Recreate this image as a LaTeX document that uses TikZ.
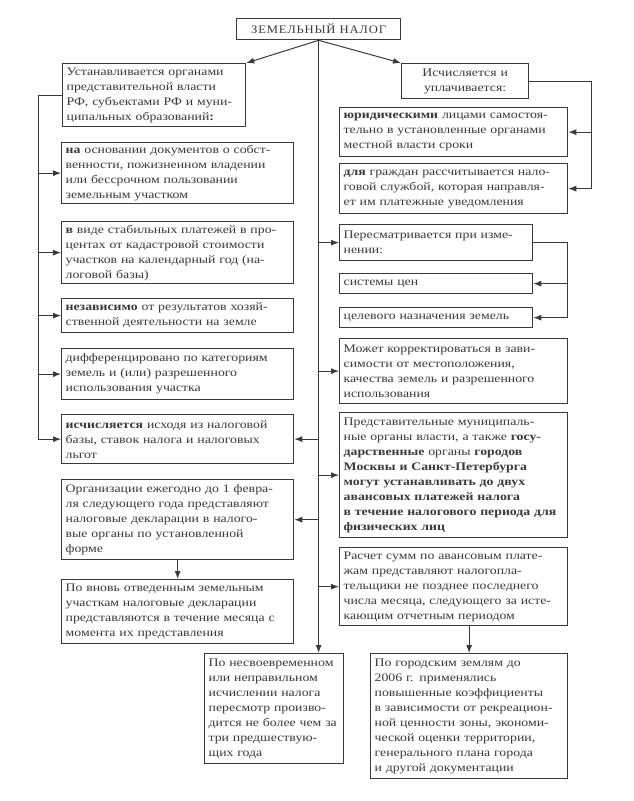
\documentclass[tikz,border=0pt]{standalone}
\usepackage{fontspec}
\setmainfont[FakeStretch=1.2]{Liberation Serif}
\newfontfamily\titlefont[LetterSpace=7,FakeStretch=1.1]{Liberation Serif}
\usetikzlibrary{arrows.meta}
\definecolor{ink}{HTML}{3A3A3A}
\tikzset{
 box/.style={draw=ink, line width=1.3pt, anchor=north west, align=left, inner xsep=4pt, inner ysep=2pt, font=\fontsize{11.5}{15}\selectfont, text=ink},
 arr/.style={draw=ink, line width=1pt, -{Latex[length=8pt,width=6pt]}},
 ln/.style={draw=ink, line width=1pt}
}
\begin{document}
\begin{tikzpicture}[x=1pt,y=-1pt]
\useasboundingbox[fill=white] (0,0) rectangle (634,801);
% title
\node[box, align=center, minimum width=164pt, minimum height=21pt, font=\titlefont\fontsize{11.5}{13}\selectfont] (T) at (236,18) {ЗЕМЕЛЬНЫЙ НАЛОГ};
% left column
\node[box, minimum width=183pt, minimum height=63pt, text width=175pt] (L0) at (62,63) {Устанавливается органами\\ представительной власти\\ РФ, субъектами РФ и муни-\\ ципальных образований\textbf{:}};
\node[box, minimum width=232pt, minimum height=61pt, text width=224pt] (L1) at (61,142) {\textbf{на} основании документов о собст-\\ венности, пожизненном владении\\ или бессрочном пользовании\\ земельным участком};
\node[box, minimum width=232pt, minimum height=62pt, text width=224pt] (L2) at (61,221) {\textbf{в} виде стабильных платежей в про-\\ центах от кадастровой стоимости\\ участков на календарный год (на-\\ логовой базы)};
\node[box, minimum width=232pt, minimum height=34pt, text width=224pt] (L3) at (61,298) {\textbf{независимо} от результатов хозяй-\\ ственной деятельности на земле};
\node[box, minimum width=232pt, minimum height=51pt, text width=224pt] (L4) at (61,348) {дифференцировано по категориям\\ земель и (или) разрешенного\\ использования участка};
\node[box, minimum width=232pt, minimum height=49pt, text width=224pt] (L5) at (61,414) {\textbf{исчисляется} исходя из налоговой\\ базы, ставок налога и налоговых\\ льгот};
\node[box, minimum width=232pt, minimum height=80pt, text width=224pt] (L6) at (61,479) {Организации ежегодно до 1 февра-\\ ля следующего года представляют\\ налоговые декларации в налого-\\ вые органы по установленной\\ форме};
\node[box, minimum width=232pt, minimum height=64pt, text width=224pt] (L7) at (61,579) {По вновь отведенным земельным\\ участкам налоговые декларации\\ представляются в течение месяца с\\ момента их представления};
% bottom centre
\node[box, minimum width=139pt, minimum height=110pt, text width=131pt] (C) at (204,653) {По несвоевременном\\ или неправильном\\ исчислении налога\\ пересмотр произво-\\ дится не более чем за\\ три предшествую-\\ щих года};
% right column
\node[box, align=center, minimum width=127pt, minimum height=35pt, text width=119pt] (R0) at (401,63) {Исчисляется и\\ уплачивается:};
\node[box, minimum width=228pt, minimum height=49pt, text width=220pt] (R1) at (339,107) {\textbf{юридическими} лицами самостоя-\\ тельно в установленные органами\\ местной власти сроки};
\node[box, minimum width=228pt, minimum height=50pt, text width=220pt] (R2) at (339,163) {\textbf{для} граждан рассчитывается нало-\\ говой службой, которая направля-\\ ет им платежные уведомления};
\node[box, minimum width=193pt, minimum height=36pt, text width=185pt] (R3) at (339,224) {Пересматривается при изме-\\ нении:};
\node[box, minimum width=193pt, minimum height=20pt, text width=185pt] (R4) at (339,273) {системы цен};
\node[box, minimum width=193pt, minimum height=20pt, text width=185pt] (R5) at (339,307) {целевого назначения земель};
\node[box, minimum width=228pt, minimum height=65pt, text width=220pt] (R6) at (339,338) {Может корректироваться в зави-\\ симости от местоположения,\\ качества земель и разрешенного\\ использования};
\node[box, minimum width=228pt, minimum height=125pt, text width=220pt] (R7) at (339,412) {Представительные муниципаль-\\ ные органы власти, а также \textbf{госу-}\\ \textbf{дарственные} органы \textbf{городов}\\ \textbf{Москвы и Санкт-Петербурга}\\ \textbf{могут устанавливать до двух}\\ \textbf{авансовых платежей налога}\\ \textbf{в течение налогового периода для}\\ \textbf{физических лиц}};
\node[box, minimum width=228pt, minimum height=78pt, text width=220pt] (R8) at (339,547) {Расчет сумм по авансовым плате-\\ жам представляют налогопла-\\ тельщики не позднее последнего\\ числа месяца, следующего за исте-\\ кающим отчетным периодом};
\node[box, minimum width=197pt, minimum height=125pt, text width=189pt] (R9) at (370,653) {По городским землям до\\ 2006 г. применялись\\ повышенные коэффициенты\\ в зависимости от рекреацион-\\ ной ценности зоны, экономи-\\ ческой оценки территории,\\ генерального плана города\\ и другой документации};
% bus coordinates
\coordinate (lbx) at (38,0);
\coordinate (rbx) at (591,0);
\coordinate (r3x) at (567,0);
% connectors from title
\draw[arr] (T.south) -- (L0.north east);
\draw[arr] (T.south) -- (R0.north west);
\draw[arr] (T.south) -- (T.south |- C.north);
% left bus
\draw[ln] (L0.west) -- (L0.west -| lbx) -- (L5.west -| lbx);
\foreach \n in {L1,L2,L3,L4,L5} \draw[arr] (\n.west -| lbx) -- (\n.west);
% from spine
\foreach \n in {L5,L6} \draw[arr] (T.south |- \n.east) -- (\n.east);
\foreach \n in {R3,R6,R7,R8} \draw[arr] (T.south |- \n.west) -- (\n.west);
% right bus
\draw[ln] (R0.east) -- (R0.east -| rbx) -- (R2.east -| rbx);
\foreach \n in {R1,R2} \draw[arr] (\n.east -| rbx) -- (\n.east);
% R3 bus
\draw[ln] (R3.east) -- (R3.east -| r3x) -- (R5.east -| r3x);
\foreach \n in {R4,R5} \draw[arr] (\n.east -| r3x) -- (\n.east);
% vertical arrows
\draw[arr] (L6.south) -- (L7.north);
\draw[arr] (R9.north |- R8.south) -- (R9.north);
\end{tikzpicture}
\end{document}
